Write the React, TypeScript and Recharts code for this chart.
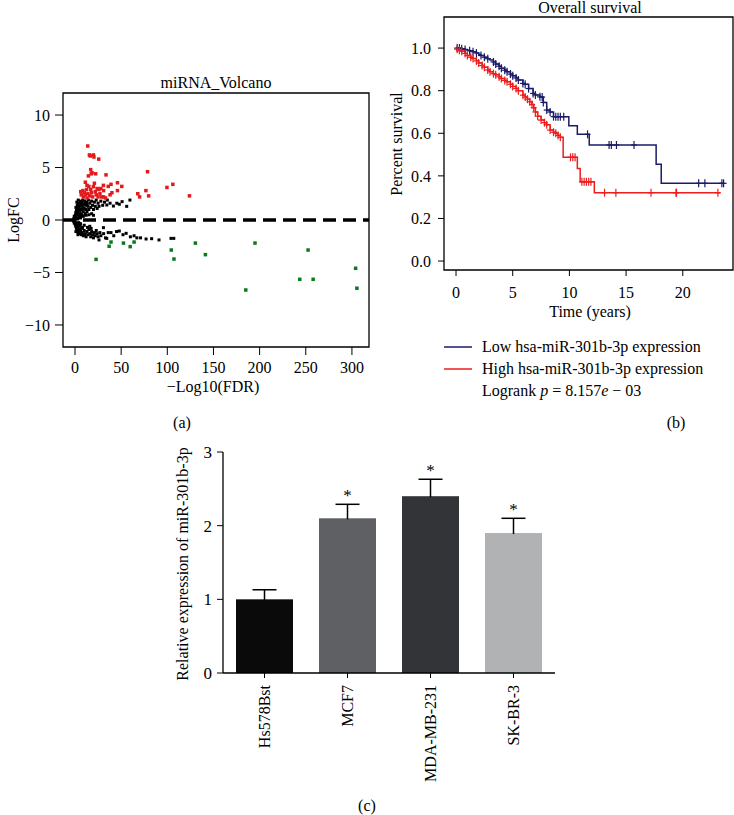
import React from 'react';
import {
  ScatterChart, Scatter, XAxis, YAxis, ReferenceLine, ReferenceArea,
  ComposedChart, Line, BarChart, Bar, Cell,
} from 'recharts';

const FONT = '"Liberation Serif", "Times New Roman", serif';

// ---- (a) miRNA volcano: [ -log10(FDR), logFC ]
const upRegulated: number[][] = [
  [13.8, 7.05], [15.6, 6.2], [16.5, 6.1], [20, 6.2], [20.5, 6.0], [25.7, 5.8],
  [17, 4.8], [17.6, 4.4], [14.5, 4.2], [22.4, 4.4], [18.5, 4.5], [33.6, 4.3], [78.6, 4.6],
  [11.2, 3.6], [13, 3.3], [15, 3.2], [19.9, 3.17], [21, 3.5], [24, 3.0], [28, 3.0],
  [30.8, 3.3], [36, 3.2], [39, 3.4], [46, 3.55], [50.7, 3.2], [46, 2.8],
  [6.2, 2.7], [6.8, 2.4], [9, 2.2], [10, 2.6], [11, 2.4], [12.5, 2.9], [14, 2.5],
  [16, 2.3], [18, 2.6], [19, 2.2], [22, 2.7], [23, 2.4], [25, 2.2], [27, 2.5],
  [29, 2.2], [31, 2.8], [33, 2.1], [8.5, 2.8], [38, 2.4], [31, 2.2], [40, 2.6],
  [26, 2.9], [17, 2.9], [13, 2.1], [68, 2.5], [70, 2.2], [76.8, 2.8], [79.8, 2.3],
  [99.6, 3.1], [106, 3.4], [124, 2.3],
];
const downRegulated: number[][] = [
  [22.8, -3.75], [39, -2.1], [37, -2.5], [52.5, -2.2], [59.8, -2.54], [64, -2.1],
  [104.3, -2.86], [107.2, -3.72], [130.4, -2.2], [141.3, -3.3], [185, -6.67],
  [195, -2.2], [243.5, -5.65], [252.5, -2.86], [258, -5.65], [304, -4.6], [305.4, -6.5],
];
const notSignificant: number[][] = [
  [-1.8, 0], [-1.2, 0.15], [-1.2, -0.15], [-0.8, 0.35], [-0.8, -0.3], [-0.5, 0.05], [-0.3, -0.1],
  [0, 0.2], [0, -0.2], [0.3, 0.45], [0.3, -0.45], [0.6, 0.1], [0.8, 0.7], [0.8, -0.6],
  [1.2, 0.3], [1.2, -0.3], [1.5, 0.9], [1.5, -0.8], [2, 0.55], [2, -0.55], [2.3, 1.2],
  [2.5, -1.0], [2.8, 0.2], [3, 0.8], [3, -0.7], [3.3, 1.5], [3.5, -1.2], [3.8, 0.5],
  [4, 1.1], [4, -0.4], [4.5, 1.6], [4.5, -0.9], [5, 0.3], [5, 1.3], [5, -1.3], [5.5, 0.9],
  [5.5, -0.6], [6, 1.8], [6, -1.1], [6.5, 0.6], [6.5, 1.4], [7, -1.4], [7, 1.0], [7.5, 1.7],
  [7.5, -0.8], [8, 0.4], [8, 1.3], [8, -1.2], [8.5, 1.9], [9, 0.8], [9, -1.5], [9.5, 1.5],
  [10, 1.1], [10, -1.0], [10.5, 1.8], [11, 0.6], [11, -1.3], [11.5, 1.4], [12, 1.0],
  [12, -1.6], [12.5, 1.7], [13, 0.8], [13, -1.1], [14, 1.3], [14, -1.4], [14.5, 1.9],
  [15, 1.0], [15, -0.9], [16, 1.6], [16, -1.3], [17, 1.2], [17, -1.6], [18, 1.8], [18, -1.1],
  [19, 1.4], [19, -1.4], [20, 1.0], [20, -1.7], [21, 1.7], [21, -1.2], [22, 1.3], [22, -1.5],
  [23, 1.9], [24, 1.1], [24, -1.3], [25, 1.6], [25, -1.6], [26, 1.3], [27, -1.2], [28, 1.8],
  [28, -1.5], [30, 1.4], [30.8, -0.73], [31, -1.3], [32, 1.7], [33, -1.7], [34.5, 1.43],
  [35, 1.9], [36, -1.2], [38, 1.6], [39, -1.2], [41.6, 1.33], [42, -1.5], [45, -1.1],
  [45.3, 1.6], [48, -1.05], [48, 1.5], [51, 1.75], [52, -1.4], [55.4, -1.27], [56, 1.3],
  [59.5, 1.9], [60, -1.6], [64, -1.5], [67, -1.7], [71, -1.7], [77, -1.81], [83, -1.78],
  [91, -1.9], [104, -1.75], [107, -1.75], [26, -1.9], [34.4, -1.75],
  [3, 0.1], [6, 0.2], [9, 0.35], [4, -0.25], [7, 0.5], [12, 0.45], [10, -0.5], [1, 1.2],
  [2, 1.7], [1, -1.1], [15, 0.5], [18, 0.6], [16, -0.6], [20, 0.45], [2.5, 1.4], [3.5, 1.9],
  [4.5, 0.6], [6, -0.35], [7, 1.6], [9, 1.1], [11, 1.6], [13, 1.5], [1.8, -0.3], [2.2, 0.9],
  [3.2, -1.4], [5.2, -0.9], [8.2, -0.7], [10.5, -1.4], [13.5, -0.7], [17.5, -0.8], [23, -1.0],
];
const volcanoXTicks = [0, 50, 100, 150, 200, 250, 300];
const volcanoYTicks = [-10, -5, 0, 5, 10];

// ---- (b) Kaplan-Meier, low vs high expression (time in years, survival, censored flag)
const lowTime = [
  0, 0.1, 0.3, 0.5, 0.8, 1.0, 1.2, 1.5, 1.8, 2.0, 2.2, 2.5, 2.8, 3.0, 3.3, 3.5, 3.8, 4.0,
  4.3, 4.5, 4.8, 5.0, 5.3, 5.5, 5.9, 6.1, 6.4, 6.8, 7.0, 7.4, 7.6, 7.7, 8.0, 8.3, 8.6, 8.8,
  9.0, 9.2, 9.5, 9.95, 10.7, 11.6, 11.75, 13.5, 13.7, 14.15, 15.7, 17.65, 18.1, 21.4,
  21.95, 23.45, 23.6,
];
const lowSurv = [
  1.0, 1.0, 1.0, 0.997, 0.993, 0.99, 0.987, 0.983, 0.977, 0.97, 0.965, 0.957, 0.95, 0.944,
  0.935, 0.925, 0.915, 0.905, 0.896, 0.889, 0.878, 0.87, 0.86, 0.85, 0.834, 0.83, 0.81,
  0.787, 0.78, 0.771, 0.77, 0.745, 0.709, 0.7, 0.678, 0.678, 0.678, 0.678, 0.678, 0.635,
  0.595, 0.595, 0.545, 0.545, 0.545, 0.545, 0.545, 0.455, 0.365, 0.365, 0.365, 0.365, 0.365,
];
const lowCensored = [
  0, 1, 1, 1, 1, 0, 1, 1, 1, 0, 1, 1, 1, 0, 1, 1, 1, 1, 1, 1, 1, 1, 1, 1, 1, 1, 1, 1, 1, 1,
  1, 1, 1, 1, 1, 1, 1, 1, 1, 0, 0, 1, 0, 1, 1, 1, 1, 0, 0, 1, 1, 1, 1,
];
const highTime = [
  0, 0.1, 0.3, 0.5, 0.8, 1.0, 1.3, 1.5, 1.8, 2.0, 2.3, 2.5, 2.8, 3.0, 3.3, 3.5, 3.8, 4.0,
  4.3, 4.5, 4.8, 5.0, 5.3, 5.5, 5.9, 6.1, 6.3, 6.5, 6.7, 6.85, 7.0, 7.2, 7.5, 7.8, 8.0, 8.3,
  8.6, 8.8, 9.0, 9.2, 9.45, 10.1, 10.3, 10.5, 10.7, 10.95, 11.1, 11.3, 11.5, 11.7, 11.9,
  12.2, 13.1, 14.1, 17.2, 19.4, 19.45, 23.1, 23.3,
];
const highSurv = [
  1.0, 0.995, 0.99, 0.985, 0.975, 0.965, 0.957, 0.951, 0.94, 0.93, 0.918, 0.91, 0.897, 0.889,
  0.88, 0.875, 0.865, 0.857, 0.848, 0.842, 0.83, 0.82, 0.81, 0.8, 0.779, 0.77, 0.76, 0.748,
  0.735, 0.72, 0.7, 0.68, 0.662, 0.65, 0.64, 0.615, 0.605, 0.6, 0.59, 0.581, 0.487, 0.487,
  0.487, 0.487, 0.435, 0.372, 0.372, 0.372, 0.372, 0.372, 0.372, 0.321, 0.321, 0.321, 0.321,
  0.321, 0.321, 0.321, 0.321,
];
const highCensored = [
  0, 1, 1, 1, 1, 1, 1, 1, 1, 1, 1, 1, 1, 1, 1, 1, 1, 1, 1, 1, 1, 1, 1, 1, 1, 1, 1, 1, 1, 1,
  1, 1, 1, 1, 1, 1, 1, 1, 1, 1, 0, 1, 1, 1, 0, 0, 1, 1, 1, 1, 1, 0, 1, 1, 1, 1, 1, 1, 0,
];
const survXTicks = [0, 5, 10, 15, 20];
const survYTicks = [0, 0.2, 0.4, 0.6, 0.8, 1.0];

// ---- (c) relative expression
const cellLines = ['Hs578Bst', 'MCF7', 'MDA-MB-231', 'SK-BR-3'];
const expression = [1.0, 2.1, 2.4, 1.9];
const expressionSd = [0.13, 0.19, 0.23, 0.2];
const significant = [false, true, true, true];
const barColors = ['#0a0a0a', '#5e6064', '#333437', '#b1b2b4'];

const NAVY = '#1b1b68';
const RED = '#ee1d1d';

const toPts = (arr: number[][]) => arr.map(([x, y]) => ({ x, y }));
const minus = (v: number) => String(v).replace('-', '\u2212');

const square = (color: string, size: number) => (p: any) => (
  <rect x={p.cx - size / 2} y={p.cy - size / 2} width={size} height={size} fill={color} />
);

const lowRows = lowTime.map((t, i) => ({ t, s: lowSurv[i], c: lowCensored[i] }));
const highRows = highTime.map((t, i) => ({ t, s: highSurv[i], c: highCensored[i] }));
const barRows = cellLines.map((name, i) => ({ name, v: expression[i], sd: expressionSd[i], sig: significant[i] }));

const censorDot = (color: string) => (p: any) => {
  if (!p.payload || !p.payload.c) return <g key={`d${p.index}`} />;
  return (
    <g key={`d${p.index}`} stroke={color} strokeWidth={1.2}>
      <line x1={p.cx} x2={p.cx} y1={p.cy - 4} y2={p.cy + 4} />
      <line x1={p.cx - 3} x2={p.cx + 3} y1={p.cy} y2={p.cy} />
    </g>
  );
};

const RotatedTick = (p: any) => (
  <text
    x={p.x} y={p.y} dy="0.35em" textAnchor="end" fontSize={16} fill="#000"
    fontFamily={FONT} transform={`rotate(-90, ${p.x}, ${p.y})`}
  >
    {p.payload.value}
  </text>
);

const BarWithError = (p: any) => {
  const { x, y, width, height, index } = p;
  const pxPerUnit = height / expression[index];
  const capY = y - expressionSd[index] * pxPerUnit;
  const cx = x + width / 2;
  return (
    <g>
      <rect x={x} y={y} width={width} height={height} fill={barColors[index]} />
      <line x1={cx} x2={cx} y1={y + 1} y2={capY} stroke="#000" strokeWidth={1.5} />
      <line x1={cx - 12} x2={cx + 12} y1={capY} y2={capY} stroke="#000" strokeWidth={1.5} />
      {significant[index] && (
        <text x={cx} y={capY - 3} textAnchor="middle" fontSize={17} fontFamily={FONT} fill="#000">*</text>
      )}
    </g>
  );
};

const txt: React.CSSProperties = { position: 'absolute', fontSize: 16, lineHeight: '16px', whiteSpace: 'nowrap', color: '#000' };
const centered = (x: number, y: number, extra?: React.CSSProperties): React.CSSProperties => ({
  ...txt, left: x, top: y, transform: 'translate(-50%, -50%)', ...extra,
});
const rotated = (x: number, y: number): React.CSSProperties => ({
  ...txt, left: x, top: y, transform: 'translate(-50%, -50%) rotate(-90deg)',
});

export default function App() {
  const tickStyle = { fontSize: 16, fill: '#000', fontFamily: FONT };
  return (
    <div style={{ position: 'absolute', left: 0, top: 0, width: 734, height: 815, background: '#fff', fontFamily: FONT, overflow: 'hidden' }}>
      {/* (a) */}
      <div style={{ position: 'absolute', left: 0, top: 0 }}>
        <ScatterChart width={380} height={400} margin={{ top: 93, right: 11, bottom: 23, left: 13 }}>
          <XAxis type="number" dataKey="x" domain={[-13, 318.5]} ticks={volcanoXTicks} allowDataOverflow
            interval={0} tickSize={8} tickMargin={7} axisLine={false} tick={tickStyle} tickLine={{ stroke: '#000' }} height={30} />
          <YAxis type="number" dataKey="y" domain={[-12.1, 12.1]} ticks={volcanoYTicks} allowDataOverflow
            interval={0} tickSize={8} tickMargin={5} width={50} tick={tickStyle} tickFormatter={minus}
            axisLine={false} tickLine={{ stroke: '#000' }} />
          <Scatter data={toPts(notSignificant)} isAnimationActive={false} shape={square('#000', 3)} />
          <Scatter data={toPts(upRegulated)} isAnimationActive={false} shape={square('#e31a1c', 3.5)} />
          <Scatter data={toPts(downRegulated)} isAnimationActive={false} shape={square('#0b7a1e', 3.5)} />
          <ReferenceLine y={0} stroke="#000" strokeWidth={3.5} strokeDasharray="13 7" />
          <ReferenceArea x1={-13} x2={318.5} y1={-12.1} y2={12.1} fill="none" stroke="#000" strokeWidth={1.3} ifOverflow="visible" />
        </ScatterChart>
      </div>
      <div style={centered(216, 83)}>miRNA_Volcano</div>
      <div style={rotated(14, 220)}>LogFC</div>
      <div style={centered(213, 387)}>&minus;Log10(FDR)</div>
      <div style={centered(182, 423)}>(a)</div>

      {/* (b) */}
      <div style={{ position: 'absolute', left: 370, top: 0 }}>
        <ComposedChart width={364} height={330} margin={{ top: 17, right: 1, bottom: 30, left: 24 }}>
          <XAxis type="number" dataKey="t" domain={[-1.06, 24.43]} ticks={survXTicks} allowDataOverflow
            interval={0} tickSize={6} tickMargin={11} axisLine={false} tick={tickStyle} tickLine={{ stroke: '#000' }} height={30} />
          <YAxis type="number" dataKey="s" domain={[-0.042, 1.146]} ticks={survYTicks} allowDataOverflow
            interval={0} tickSize={6} tickMargin={7} width={50} tick={tickStyle} axisLine={false}
            tickLine={{ stroke: '#000' }} tickFormatter={(v: number) => v.toFixed(1)} />
          <Line data={lowRows} dataKey="s" type="stepAfter" stroke={NAVY} strokeWidth={1.5}
            dot={censorDot(NAVY)} activeDot={false} isAnimationActive={false} />
          <Line data={highRows} dataKey="s" type="stepAfter" stroke={RED} strokeWidth={1.5}
            dot={censorDot(RED)} activeDot={false} isAnimationActive={false} />
          <ReferenceArea x1={-1.06} x2={24.43} y1={-0.042} y2={1.146} fill="none" stroke="#000" strokeWidth={1.3} ifOverflow="visible" />
        </ComposedChart>
      </div>
      <div style={{ ...txt, left: 590, top: 0, transform: 'translateX(-50%)' }}>Overall survival</div>
      <div style={rotated(397, 144)}>Percent survival</div>
      <div style={centered(590, 312)}>Time (years)</div>
      <svg style={{ position: 'absolute', left: 444, top: 340 }} width={30} height={40}>
        <line x1={0} x2={28} y1={7} y2={7} stroke={NAVY} strokeWidth={1.5} />
        <line x1={0} x2={28} y1={29} y2={29} stroke={RED} strokeWidth={1.5} />
      </svg>
      <div style={{ ...txt, left: 482, top: 339 }}>Low hsa-miR-301b-3p expression</div>
      <div style={{ ...txt, left: 482, top: 361 }}>High hsa-miR-301b-3p expression</div>
      <div style={{ ...txt, left: 482, top: 383 }}>
        Logrank <i>p</i> = 8.157<i>e</i> &minus; 03
      </div>
      <div style={centered(676, 423)}>(b)</div>

      {/* (c) */}
      <div style={{ position: 'absolute', left: 150, top: 420 }}>
        <BarChart width={420} height={395} data={barRows} margin={{ top: 32, right: 15, bottom: 22, left: 23 }} barSize={57}>
          <XAxis dataKey="name" interval={0} tickSize={5} tickMargin={7} height={120}
            axisLine={{ stroke: '#000', strokeWidth: 1.3 }} tickLine={{ stroke: '#000' }} tick={<RotatedTick />} />
          <YAxis type="number" domain={[0, 3]} ticks={[0, 1, 2, 3]} interval={0} width={50} tickSize={6} tickMargin={5}
            axisLine={{ stroke: '#000', strokeWidth: 1.3 }} tickLine={{ stroke: '#000' }}
            tick={{ fontSize: 17, fill: '#000', fontFamily: FONT }} />
          <Bar dataKey="v" isAnimationActive={false} shape={<BarWithError />}>
            {barRows.map((r, i) => <Cell key={r.name} fill={barColors[i]} />)}
          </Bar>
        </BarChart>
      </div>
      <div style={rotated(183, 564)}>Relative expression of miR-301b-3p</div>
      <div style={centered(367, 806)}>(c)</div>
    </div>
  );
}
